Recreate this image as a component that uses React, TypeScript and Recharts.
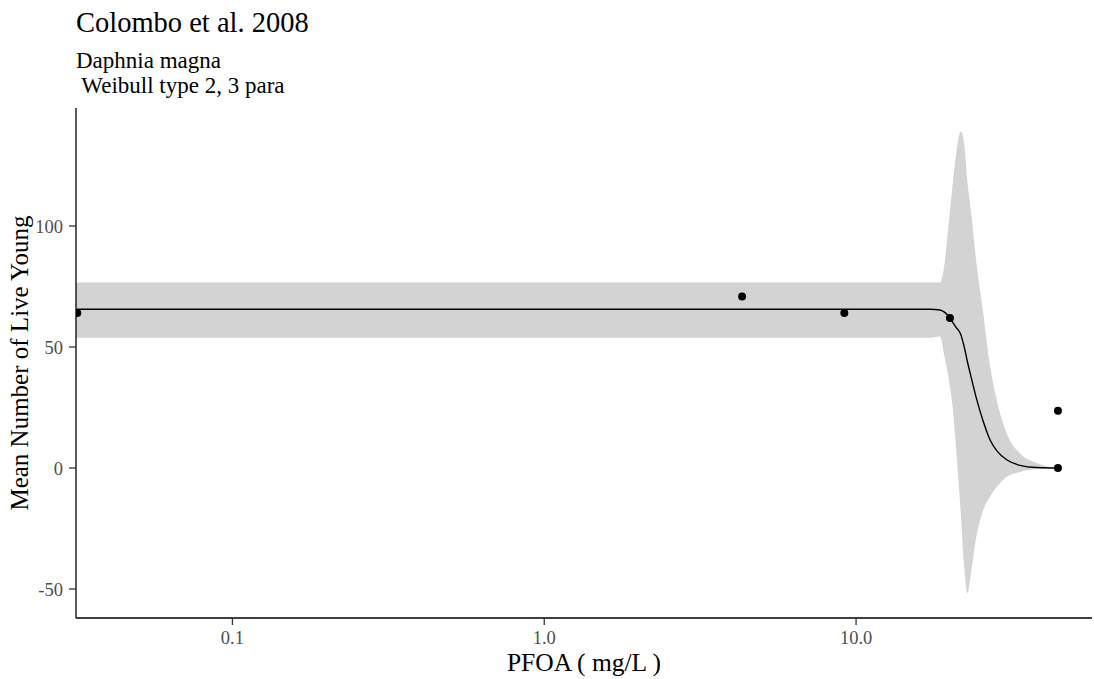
import { Area, ComposedChart, Line, Scatter, XAxis, YAxis } from "recharts";

// observed means per concentration (first one is the control, shown at the left edge)
const obsConc = [0.0318, 4.31, 9.17, 20.0, 44.4, 44.4];
const obsYoung = [64.0, 70.9, 64.0, 62.0, 23.7, 0.0];

// fitted W2.3 curve with its confidence band
const fitConc = [
  0.0315, 17.3, 18.6, 19.15, 19.73, 20.32, 20.93, 21.67, 22.21, 22.75, 23.33, 24.26, 25.49,
  26.9, 28.33, 30.5, 33.57, 38.06, 44.4,
];
const fitYoung = [
  65.6, 65.6, 65.3, 64.5, 63.0, 60.6, 58.1, 55.2, 50.2, 44.0, 38.1, 29.3, 19.8, 11.6, 7.0, 3.3,
  1.1, 0.2, 0.0,
];
const bandLow = [
  53.8, 53.8, 54.3, 46.9, 38.3, 27.3, 8.3, -18.9, -40.8, -51.8, -44.0, -29.0, -18.0, -11.9, -7.6,
  -3.5, -1.6, -0.4, 0.0,
];
const bandHigh = [
  76.7, 76.7, 76.7, 83.0, 98.4, 115.0, 129.7, 139.0, 134.2, 118.3, 106.6, 86.0, 65.4, 42.0, 27.5,
  14.0, 6.0, 2.0, 0.0,
];

const xTicks = [0.1, 1, 10];
const yTicks = [-50, 0, 50, 100];

const W = 1094;
const H = 679;
const MARGIN = { top: 108, right: 2, bottom: 0, left: 0 };
const Y_AXIS_W = 76;
const X_AXIS_H = 61;
const FONT = '"Liberation Serif", "Times New Roman", serif';

// plot panel box, used to clip the points like the other layers
const panel = {
  x: MARGIN.left + Y_AXIS_W,
  y: MARGIN.top,
  w: W - MARGIN.left - MARGIN.right - Y_AXIS_W,
  h: H - MARGIN.top - MARGIN.bottom - X_AXIS_H,
};

const points = obsConc.map((conc, i) => ({ conc, young: obsYoung[i] }));
const fit = fitConc.map((conc, i) => ({
  conc,
  fit: fitYoung[i],
  band: [bandLow[i], bandHigh[i]],
}));

const tickStyle = { fill: "#4d4d4d", fontSize: 18.5, fontFamily: FONT };

function Dot(p: any) {
  return (
    <g>
      <defs>
        <clipPath id="panel-clip">
          <rect x={panel.x} y={panel.y} width={panel.w} height={panel.h} />
        </clipPath>
      </defs>
      <circle cx={p.cx} cy={p.cy} r={4} fill="#000" clipPath="url(#panel-clip)" />
    </g>
  );
}

export default function App() {
  return (
    <div style={{ position: "absolute", left: 0, top: 0, width: W, height: H, background: "#fff" }}>
      <ComposedChart width={W} height={H} margin={MARGIN}>
        <XAxis
          type="number"
          dataKey="conc"
          scale="log"
          domain={[0.0315, 57.1]}
          allowDataOverflow
          ticks={xTicks}
          tickFormatter={(v: number) => v.toFixed(1)}
          height={X_AXIS_H}
          tick={tickStyle}
          tickSize={7}
          tickMargin={6}
          axisLine={{ stroke: "#000", strokeWidth: 1.3 }}
          tickLine={{ stroke: "#333", strokeWidth: 1.3 }}
        />
        <YAxis
          type="number"
          domain={[-61.98, 148.76]}
          allowDataOverflow
          ticks={yTicks}
          width={Y_AXIS_W}
          tick={tickStyle}
          tickSize={7}
          tickMargin={6}
          axisLine={{ stroke: "#000", strokeWidth: 1.3 }}
          tickLine={{ stroke: "#333", strokeWidth: 1.3 }}
        />
        <Area
          data={fit}
          dataKey="band"
          type="monotone"
          stroke="none"
          fill="#d3d3d3"
          fillOpacity={1}
          isAnimationActive={false}
        />
        <Line
          data={fit}
          dataKey="fit"
          type="monotone"
          stroke="#000"
          strokeWidth={1.4}
          dot={false}
          activeDot={false}
          isAnimationActive={false}
        />
        <Scatter
          data={points}
          dataKey="young"
          fill="#000"
          shape={Dot}
          isAnimationActive={false}
        />
      </ComposedChart>
      <svg
        width={W}
        height={H}
        style={{ position: "absolute", left: 0, top: 0, pointerEvents: "none" }}
        fontFamily={FONT}
      >
        <text x={76} y={32} fontSize={28.5} fill="#000">
          Colombo et al. 2008
        </text>
        <text x={76} y={68} fontSize={23} fill="#000">
          Daphnia magna
        </text>
        <text x={76} y={93} fontSize={23} fill="#000" xmlSpace="preserve">
          {" Weibull type 2, 3 para"}
        </text>
        <text x={584} y={671} fontSize={25.5} fill="#000" textAnchor="middle">
          PFOA ( mg/L )
        </text>
        <text
          x={28}
          y={363}
          fontSize={25}
          fill="#000"
          textAnchor="middle"
          transform="rotate(-90 28 363)"
        >
          Mean Number of Live Young
        </text>
      </svg>
    </div>
  );
}
